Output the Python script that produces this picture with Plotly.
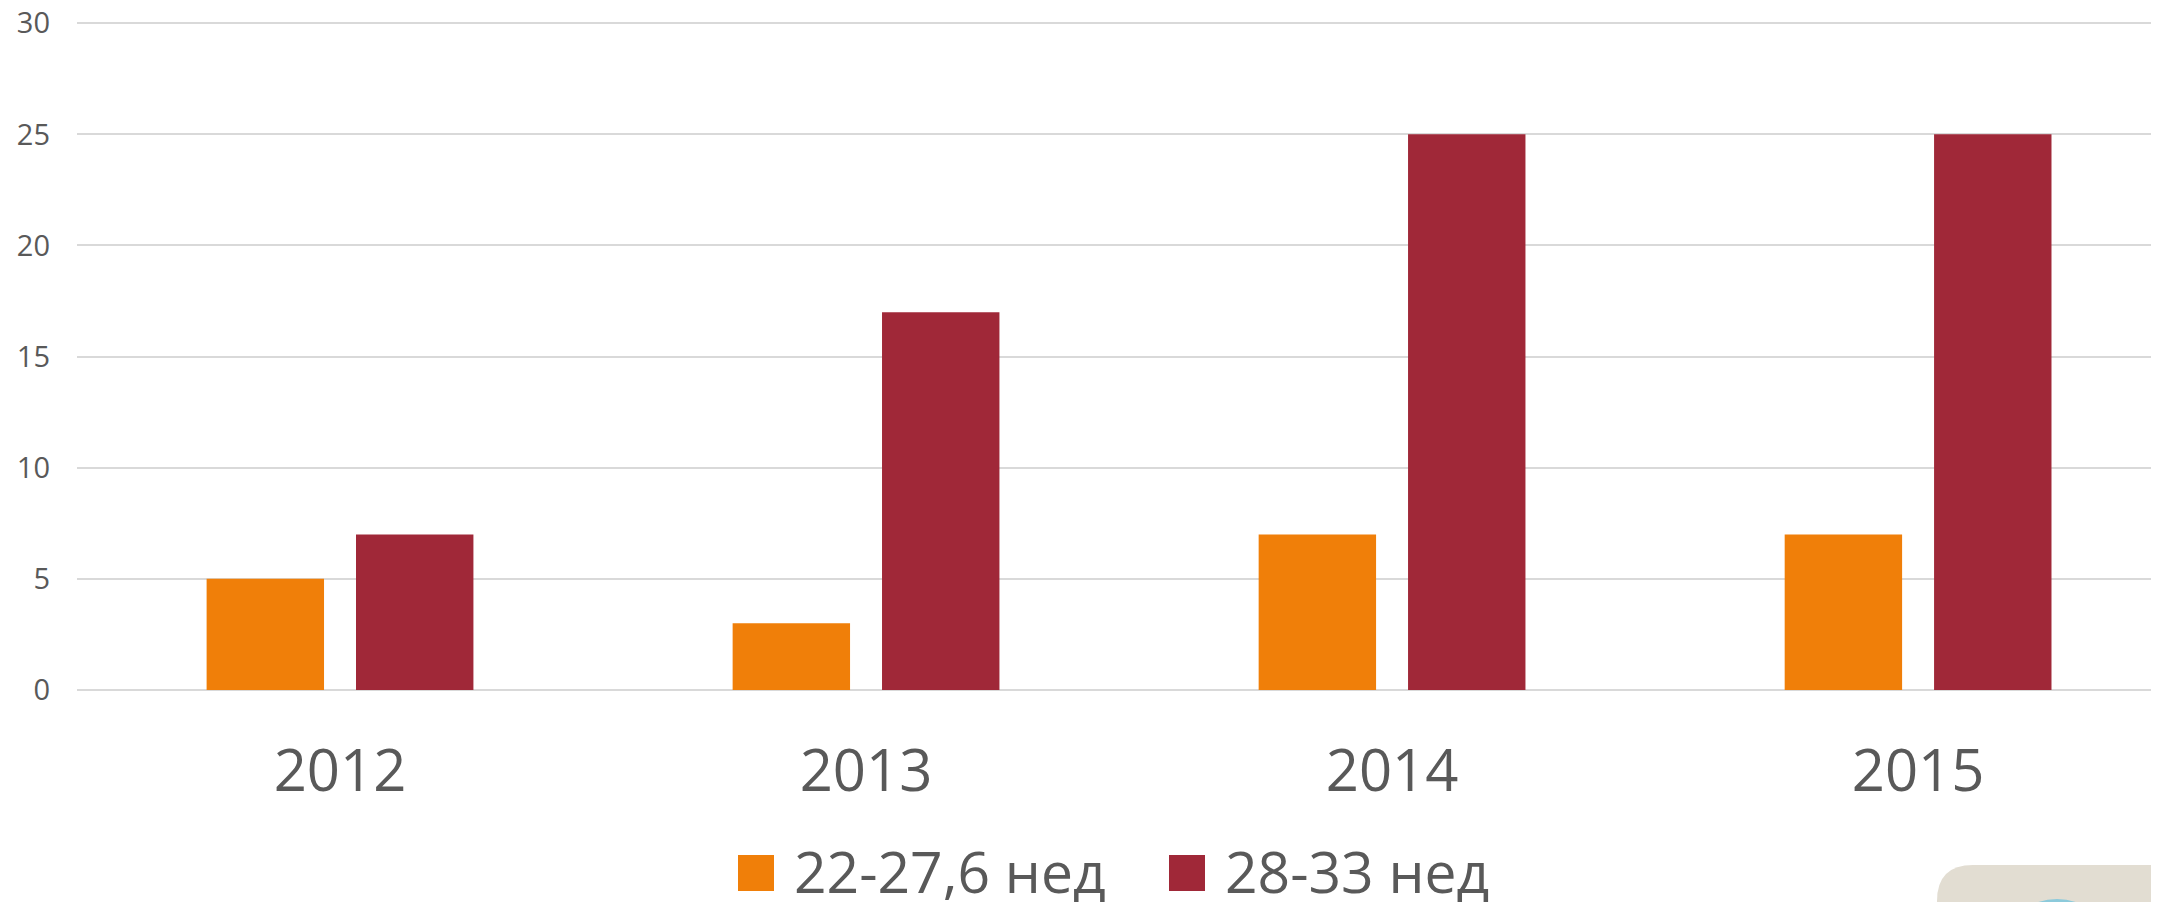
import plotly.graph_objects as go

# ---- data ----
years = ["2012", "2013", "2014", "2015"]
series_names = ["22-27,6 нед", "28-33 нед"]
vals_22_27 = [5, 3, 7, 7]
vals_28_33 = [7, 17, 25, 25]
colors = ["#F07F09", "#A02838"]
y_ticks = [0, 5, 10, 15, 20, 25, 30]

# page is offset by the default 8px body margin
OFF = 8
W, H = 2159 - OFF, 902 - OFF
ML, MR, MT, MB = 77 - OFF, 0, 13, 212
PW, PH = W - ML - MR, H - MT - MB


def px(x):
    # page pixel x -> paper coordinate
    return (x - OFF - ML) / PW


def py(y):
    # page pixel y -> paper coordinate
    return (H - MB - (y - OFF)) / PH


fig = go.Figure()
for name, vals, col in zip(series_names, [vals_22_27, vals_28_33], colors):
    fig.add_trace(go.Bar(x=years, y=vals, name=name, marker=dict(color=col, line=dict(width=0)),
                         showlegend=False))

TXT = "#595959"
FONT = "Open Sans"

fig.update_layout(
    width=W, height=H,
    margin=dict(l=ML, r=MR, t=MT, b=MB, autoexpand=False),
    paper_bgcolor="white", plot_bgcolor="white",
    barmode="group", bargap=0.432, bargroupgap=0.214,
    font=dict(family=FONT, color=TXT),
)
fig.update_xaxes(type="category", range=[-0.5, 3.458], showgrid=False, showline=False,
                 zeroline=False, tickfont=dict(size=58, color=TXT, family=FONT),
                 ticks="", ticklabelstandoff=42, automargin=False)
fig.update_yaxes(range=[0, 30.1], tickvals=y_ticks, showgrid=True, gridcolor="#D9D9D9",
                 gridwidth=2, zeroline=True, zerolinecolor="#D9D9D9", zerolinewidth=2,
                 showline=False, ticks="", tickfont=dict(size=29, color=TXT, family=FONT),
                 ticklabelstandoff=26, ticklabeloverflow="allow", automargin=False)

# ---- custom legend (large square swatches) ----
legend_items = [(738, 792), (1169, 1223)]
for (sx, tx), name, col in zip(legend_items, series_names, colors):
    fig.add_shape(type="rect", xref="paper", yref="paper",
                  x0=px(sx), x1=px(sx + 36), y0=py(891), y1=py(855),
                  fillcolor=col, line=dict(width=0))
    fig.add_annotation(xref="paper", yref="paper", x=px(tx), y=py(871),
                       xanchor="left", yanchor="middle", text=name, showarrow=False,
                       font=dict(size=57, color=TXT, family=FONT))

# ---- decorative corner element (bottom-right) ----
r = 36
x0, y0 = 1937, 865
path = (f"M {px(x0)},{py(910)} L {px(x0)},{py(y0 + r)} "
        f"Q {px(x0)},{py(y0)} {px(x0 + r)},{py(y0)} "
        f"L {px(2170)},{py(y0)} L {px(2170)},{py(910)} Z")
fig.add_shape(type="path", xref="paper", yref="paper", path=path,
              fillcolor="#E2DDD2", line=dict(width=0), layer="above")
fig.add_shape(type="circle", xref="paper", yref="paper",
              x0=px(1997), x1=px(2117), y0=py(1020), y1=py(899),
              fillcolor="#8CCADB", line=dict(width=0), layer="above")

fig.write_html("out.html")
